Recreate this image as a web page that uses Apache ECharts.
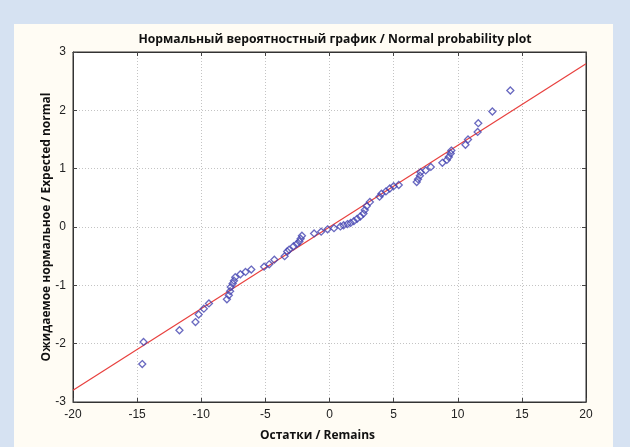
<!DOCTYPE html>
<html>
<head>
<meta charset="utf-8">
<script src="https://cdn.jsdelivr.net/npm/echarts@6/dist/echarts.min.js"></script>
<style>
  html, body { margin: 0; padding: 0; background: #d6e2f2; }
  #chart { width: 630px; height: 447px; }
</style>
</head>
<body>
<div id="chart"></div>
<script>
// residuals (x) and expected normal values (y)
const residuals = [
  -14.6, -14.5, -11.7, -10.45, -10.2, -9.8, -9.4, -8.0, -7.85, -7.75,
  -7.7, -7.55, -7.45, -7.35, -6.95, -6.55, -6.1, -5.1, -4.7, -4.3,
  -3.5, -3.3, -3.15, -2.8, -2.55, -2.35, -2.25, -2.15, -1.2, -0.65,
  -0.15, 0.35, 0.85, 1.1, 1.4, 1.65, 1.9, 2.15, 2.4, 2.65,
  2.75, 2.9, 3.15, 3.9, 4.05, 4.4, 4.7, 5.0, 5.4, 6.8,
  6.9, 7.05, 7.1, 7.5, 7.9, 8.8, 9.15, 9.3, 9.45, 9.5,
  10.6, 10.8, 11.55, 11.6, 12.7, 14.1
];
const expectedNormal = [
  -2.35, -1.97, -1.77, -1.63, -1.50, -1.40, -1.31, -1.24, -1.17, -1.10,
  -1.03, -0.97, -0.92, -0.86, -0.81, -0.77, -0.73, -0.68, -0.64, -0.56,
  -0.50, -0.42, -0.39, -0.33, -0.29, -0.25, -0.20, -0.15, -0.11, -0.08,
  -0.04, -0.02, 0.01, 0.03, 0.05, 0.07, 0.10, 0.14, 0.18, 0.23,
  0.29, 0.36, 0.43, 0.52, 0.57, 0.61, 0.66, 0.70, 0.72, 0.77,
  0.82, 0.88, 0.94, 0.97, 1.03, 1.10, 1.15, 1.20, 1.26, 1.31,
  1.41, 1.50, 1.63, 1.78, 1.98, 2.34
];
// fitted reference line
const fitX = [-20, 20];
const fitY = [-2.8, 2.8];

const chart = echarts.init(document.getElementById('chart'));
const font = '"Liberation Sans", Arial, sans-serif';
const boldFont = '"Open Sans", "Noto Sans", sans-serif';

const tickStyle = { show: true, inside: true, length: 4, lineStyle: { color: '#444' } };
const gridLines = { show: true, lineStyle: { color: '#c4c4c4', type: [1, 2], width: 1 } };
const frameLine = { show: true, onZero: false, lineStyle: { color: '#333' } };

chart.setOption({
  backgroundColor: '#d6e2f2',
  animation: false,
  graphic: [{
    type: 'rect',
    z: -10,
    shape: { x: 14, y: 24, width: 599, height: 430 },
    style: { fill: '#fffcf4' }
  }],
  title: {
    text: 'Нормальный вероятностный график / Normal probability plot',
    left: 330,
    textAlign: 'center',
    top: 29,
    textStyle: { fontFamily: boldFont, fontWeight: 'bold', fontSize: 12.2, color: '#111' }
  },
  grid: {
    left: 73, right: 44, top: 52, bottom: 44,
    show: true,
    backgroundColor: '#ffffff',
    borderColor: '#333',
    borderWidth: 1
  },
  xAxis: [{
    type: 'value',
    min: -20, max: 20, interval: 5,
    name: 'Остатки / Remains',
    nameLocation: 'middle',
    nameGap: 28,
    nameTextStyle: { fontFamily: boldFont, fontWeight: 'bold', fontSize: 12, color: '#111', padding: [0, 24, 0, 0] },
    axisLine: frameLine,
    axisTick: tickStyle,
    axisLabel: { fontFamily: font, fontSize: 12, color: '#222', margin: 7 },
    splitLine: gridLines
  }, {
    type: 'value',
    position: 'top',
    min: -20, max: 20, interval: 5,
    axisLine: frameLine,
    axisTick: tickStyle,
    axisLabel: { show: false },
    splitLine: { show: false }
  }],
  yAxis: [{
    type: 'value',
    min: -3, max: 3, interval: 1,
    name: 'Ожидаемое нормальное / Expected normal',
    nameLocation: 'middle',
    nameGap: 20,
    nameMoveOverlap: false,
    nameTextStyle: { fontFamily: boldFont, fontWeight: 'bold', fontSize: 12, color: '#111' },
    axisLine: frameLine,
    axisTick: tickStyle,
    axisLabel: { fontFamily: font, fontSize: 12, color: '#222', margin: 7 },
    splitLine: gridLines
  }, {
    type: 'value',
    position: 'right',
    min: -3, max: 3, interval: 1,
    axisLine: frameLine,
    axisTick: tickStyle,
    axisLabel: { show: false },
    splitLine: { show: false }
  }],
  series: [
    {
      name: 'fit',
      type: 'line',
      data: fitX.map((x, i) => [x, fitY[i]]),
      symbol: 'none',
      lineStyle: { color: '#e8403e', width: 1.2 },
      z: 2
    },
    {
      name: 'residuals',
      type: 'scatter',
      data: residuals.map((x, i) => [x, expectedNormal[i]]),
      symbol: 'diamond',
      symbolSize: 7,
      itemStyle: { color: 'rgba(255,255,255,0)', borderColor: '#4444b0', borderWidth: 1.3 },
      z: 3
    }
  ]
});
</script>
</body>
</html>
